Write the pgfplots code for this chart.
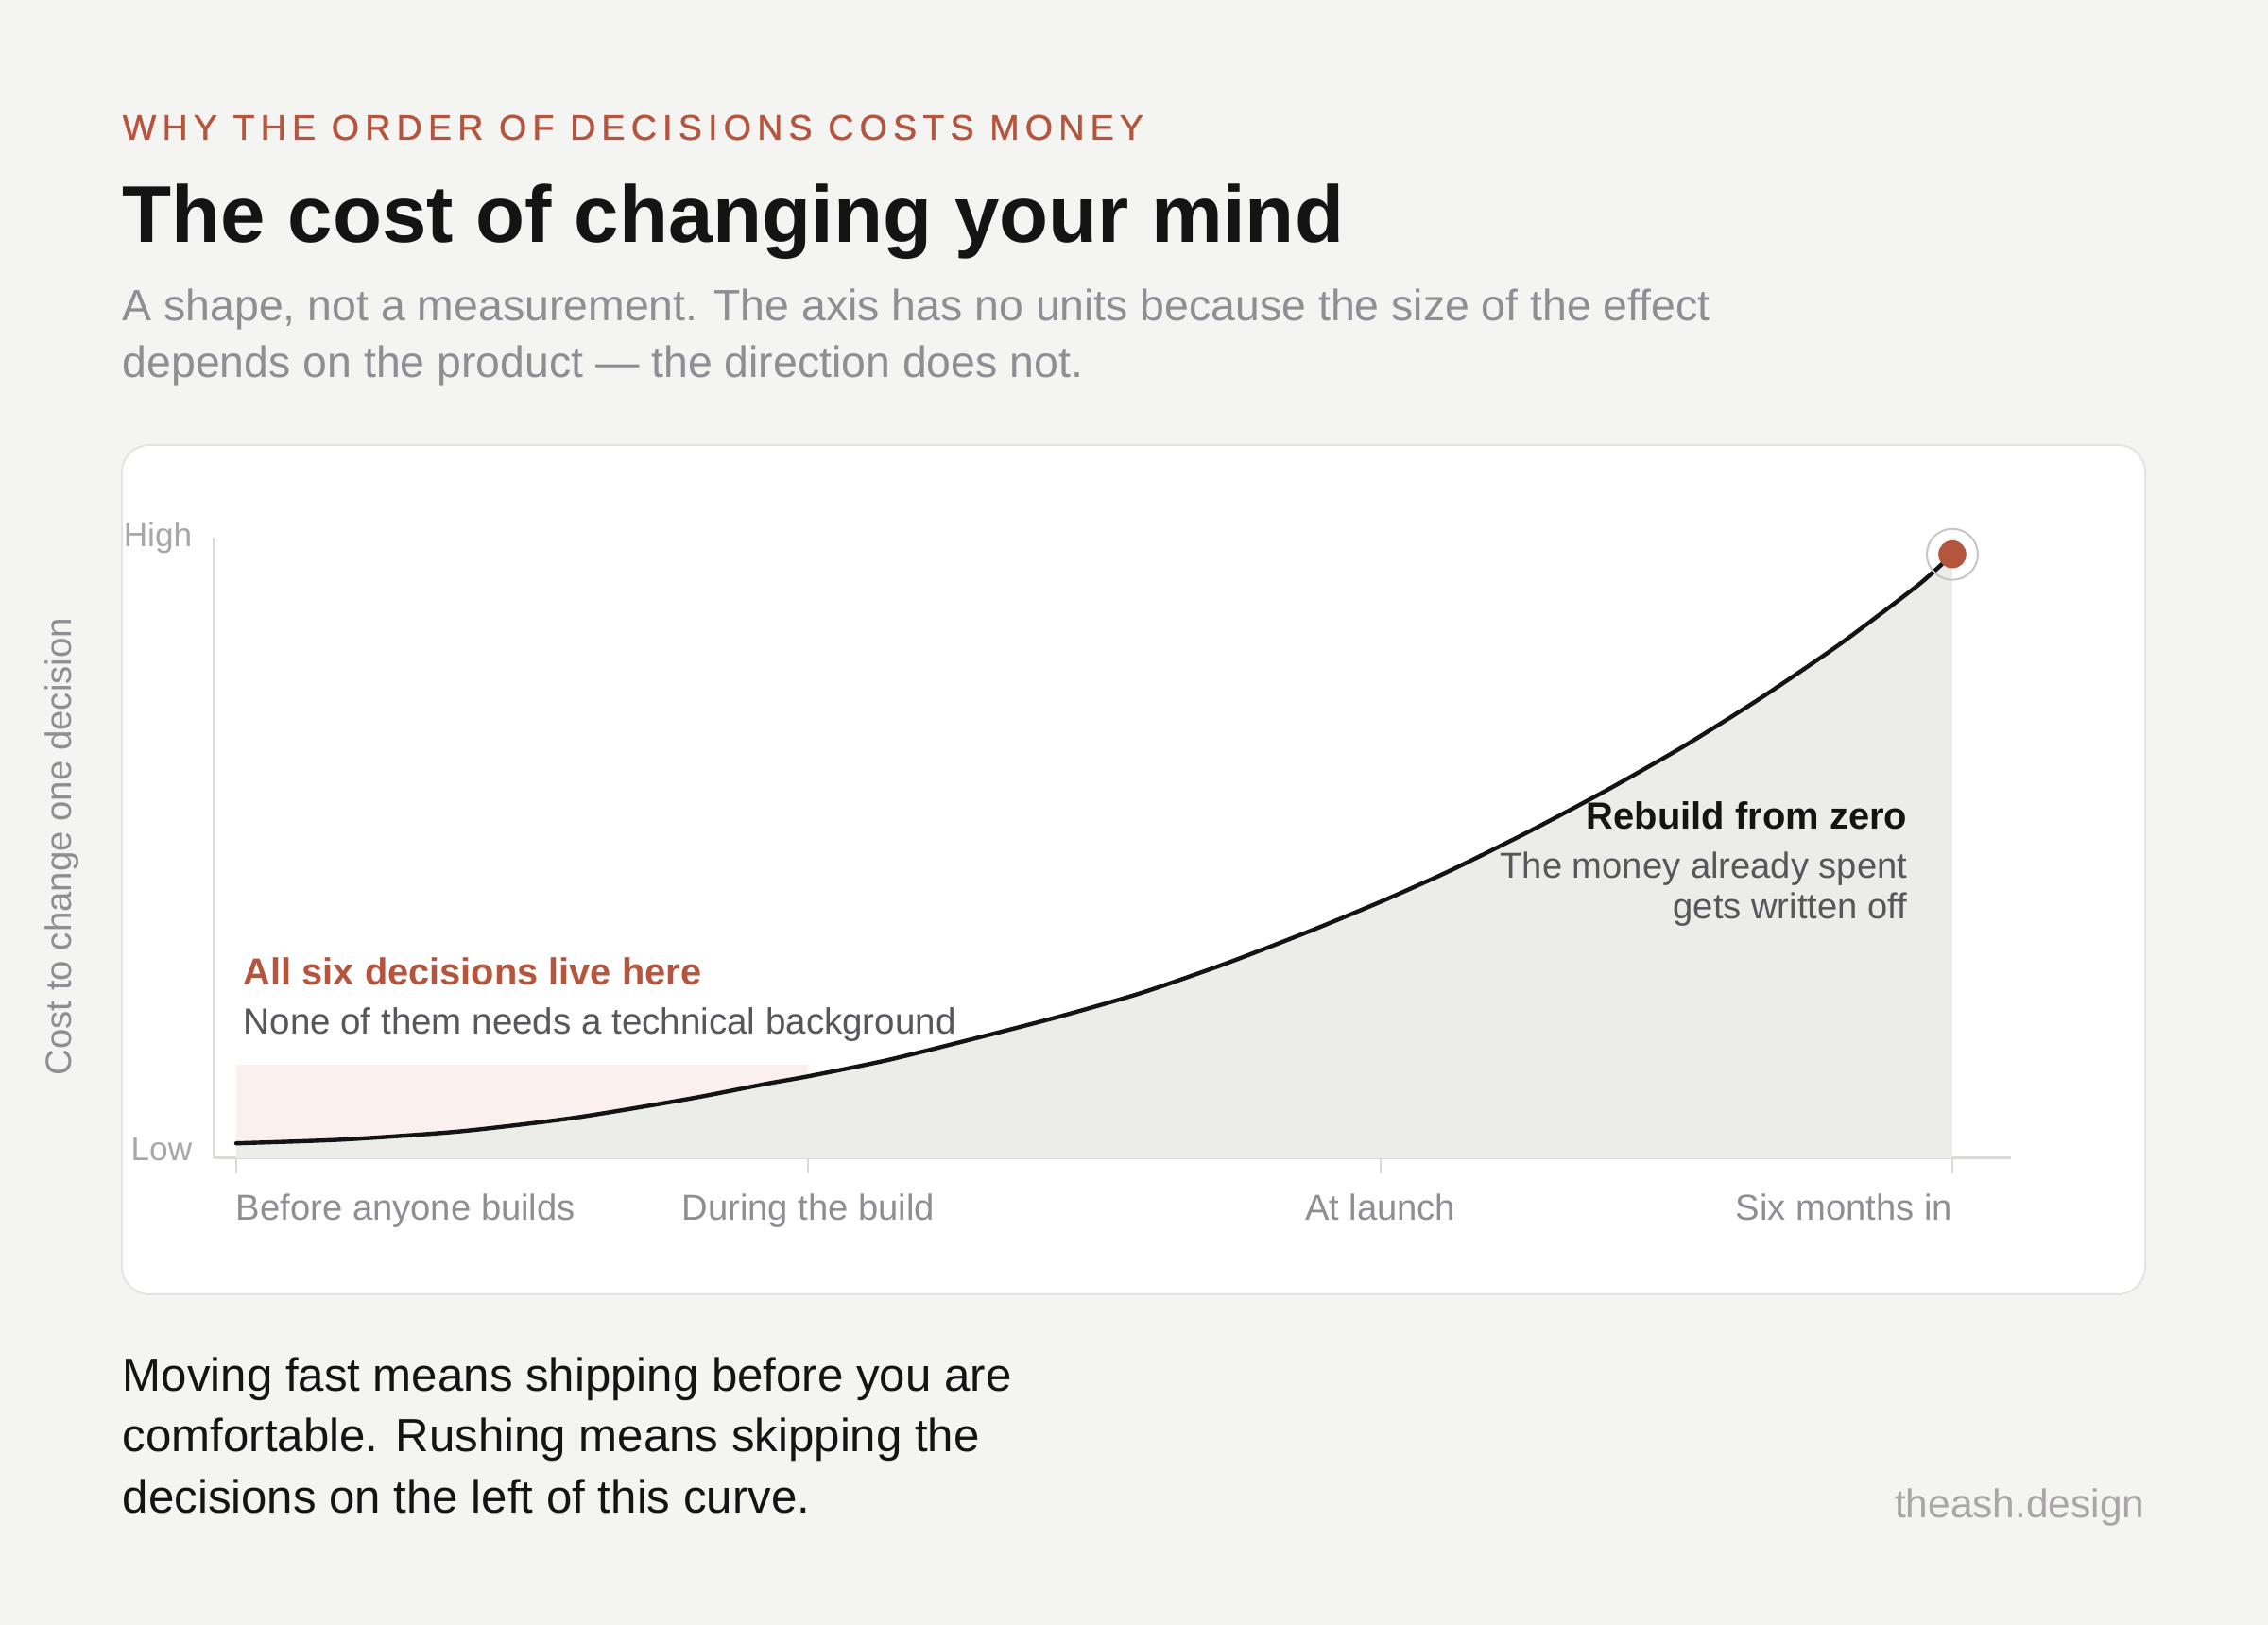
\documentclass[border=0pt]{standalone}
\usepackage{fontspec}
\setmainfont{Liberation Sans}
\newfontfamily\kickerfont[LetterSpace=16.5,FakeBold=1]{Liberation Sans}
\usepackage{pgfplots}
\pgfplotsset{compat=1.18}
\definecolor{bg}{HTML}{F4F4F2}
\definecolor{cardborder}{HTML}{E4E4E0}
\definecolor{rust}{HTML}{B5553D}
\definecolor{ink}{HTML}{141414}
\definecolor{subgray}{HTML}{8E8E93}
\definecolor{lightgray}{HTML}{A8A6A6}
\definecolor{midgray}{HTML}{56565B}
\definecolor{fillgray}{HTML}{ECECE8}
\definecolor{pinkzone}{HTML}{FAF1EE}
\definecolor{axisgray}{HTML}{D9D9D5}
\definecolor{ringgray}{HTML}{C9C5C4}

\pgfplotstableread{
x y
0     0.024
0.185 0.030
0.388 0.043
0.590 0.065
0.793 0.096
0.927 0.120
1.000 0.132
1.138 0.158
1.287 0.192
1.434 0.227
1.581 0.266
1.728 0.313
1.877 0.366
2.000 0.413
2.119 0.462
2.257 0.525
2.394 0.592
2.531 0.664
2.666 0.742
2.803 0.828
2.941 0.924
3.000 0.973
}\costcurve

\begin{document}
\begin{tikzpicture}
\fill[bg] (0,0) rectangle (600pt,430pt);
\useasboundingbox (0,0) rectangle (600pt,430pt);
% card
\draw[fill=white, draw=cardborder, line width=0.5pt, rounded corners=7.25pt]
  (32.25pt,87.5pt) rectangle (567.5pt,312.25pt);
% header
\node[anchor=base west, inner sep=0pt, text=rust, font=\kickerfont\fontsize{9.4}{11}\selectfont]
  at (32.25pt,393pt) {WHY THE ORDER OF DECISIONS COSTS MONEY};
\node[anchor=base west, inner sep=0pt, text=ink, font=\bfseries\fontsize{21.3}{26}\selectfont]
  at (32.25pt,365.75pt) {The cost of changing your mind};
\node[anchor=base west, inner sep=0pt, text=subgray, font=\fontsize{11.6}{13}\selectfont]
  at (32.25pt,345pt) {A shape, not a measurement. The axis has no units because the size of the effect};
\node[anchor=base west, inner sep=0pt, text=subgray, font=\fontsize{11.6}{13}\selectfont]
  at (32.25pt,330pt) {depends on the product --- the direction does not.};

\begin{axis}[
  at={(56.5pt,123.5pt)}, anchor=south west,
  scale only axis, width=475.5pt, height=164.25pt,
  xmin=-0.0396, xmax=3.1025, ymin=0, ymax=1,
  clip=false,
  axis x line*=bottom, axis y line*=left,
  x axis line style={draw=axisgray, line width=0.75pt},
  y axis line style={draw=axisgray, line width=0.5pt},
  xtick={0,1,2,3},
  xticklabels={\makebox[0pt][l]{Before anyone builds},During the build,At launch,\makebox[0pt][r]{Six months in}},
  xtick style={draw=axisgray, line width=0.5pt},
  xtick align=outside, major tick length=4pt,
  x tick label style={anchor=base, yshift=-12.5pt, inner sep=0pt, text=subgray, font=\fontsize{9.55}{11}\selectfont},
  ytick={0,1},
  yticklabels={\raisebox{5pt}{Low},High},
  ytick style={draw=none},
  y tick label style={anchor=east, xshift=-5.5pt, inner sep=0pt, text=lightgray, font=\fontsize{8.8}{10}\selectfont},
  ylabel={Cost to change one decision},
  ylabel style={at={(axis description cs:-0.0841,0.502)}, anchor=center, inner sep=0pt, text=subgray, font=\fontsize{9.6}{11}\selectfont},
]
\addplot[fill=pinkzone, draw=none] coordinates {(0,0) (0,0.151) (1,0.151) (1,0)} \closedcycle;
\addplot[fill=fillgray, draw=none, smooth, tension=0.4] table[x=x,y=y] {\costcurve} \closedcycle;
\addplot[draw=ink, line width=1.1pt, smooth, tension=0.4, line cap=round] table[x=x,y=y] {\costcurve};
\addplot[only marks, mark=o, mark size=6.75pt, mark options={draw=ringgray, line width=0.5pt}] coordinates {(3,0.973)};
\addplot[only marks, mark=*, mark size=3.5pt, mark options={draw=rust, fill=rust}] coordinates {(3,0.973)};
\end{axis}

% annotations
\node[anchor=base west, inner sep=0pt, text=rust, font=\bfseries\fontsize{9.95}{12}\selectfont]
  at (64.25pt,169.25pt) {All six decisions live here};
\node[anchor=base west, inner sep=0pt, text=midgray, font=\fontsize{9.63}{11}\selectfont]
  at (64.25pt,156.25pt) {None of them needs a technical background};
\node[anchor=base east, inner sep=0pt, text=ink, font=\bfseries\fontsize{9.98}{12}\selectfont]
  at (504.75pt,210.5pt) {Rebuild from zero};
\node[anchor=base east, inner sep=0pt, text=midgray, font=\fontsize{9.54}{11}\selectfont]
  at (504.75pt,197.5pt) {The money already spent};
\node[anchor=base east, inner sep=0pt, text=midgray, font=\fontsize{9.54}{11}\selectfont]
  at (504.75pt,186.75pt) {gets written off};

% footer
\node[anchor=base west, inner sep=0pt, text=ink, font=\fontsize{12.3}{14}\selectfont]
  at (32.25pt,61.75pt) {Moving fast means shipping before you are};
\node[anchor=base west, inner sep=0pt, text=ink, font=\fontsize{12.3}{14}\selectfont]
  at (32.25pt,45.75pt) {comfortable. Rushing means skipping the};
\node[anchor=base west, inner sep=0pt, text=ink, font=\fontsize{12.3}{14}\selectfont]
  at (32.25pt,29.5pt) {decisions on the left of this curve.};
\node[anchor=base east, inner sep=0pt, text=lightgray, font=\fontsize{10.6}{12}\selectfont]
  at (567.5pt,28.25pt) {theash.design};
\end{tikzpicture}
\end{document}
